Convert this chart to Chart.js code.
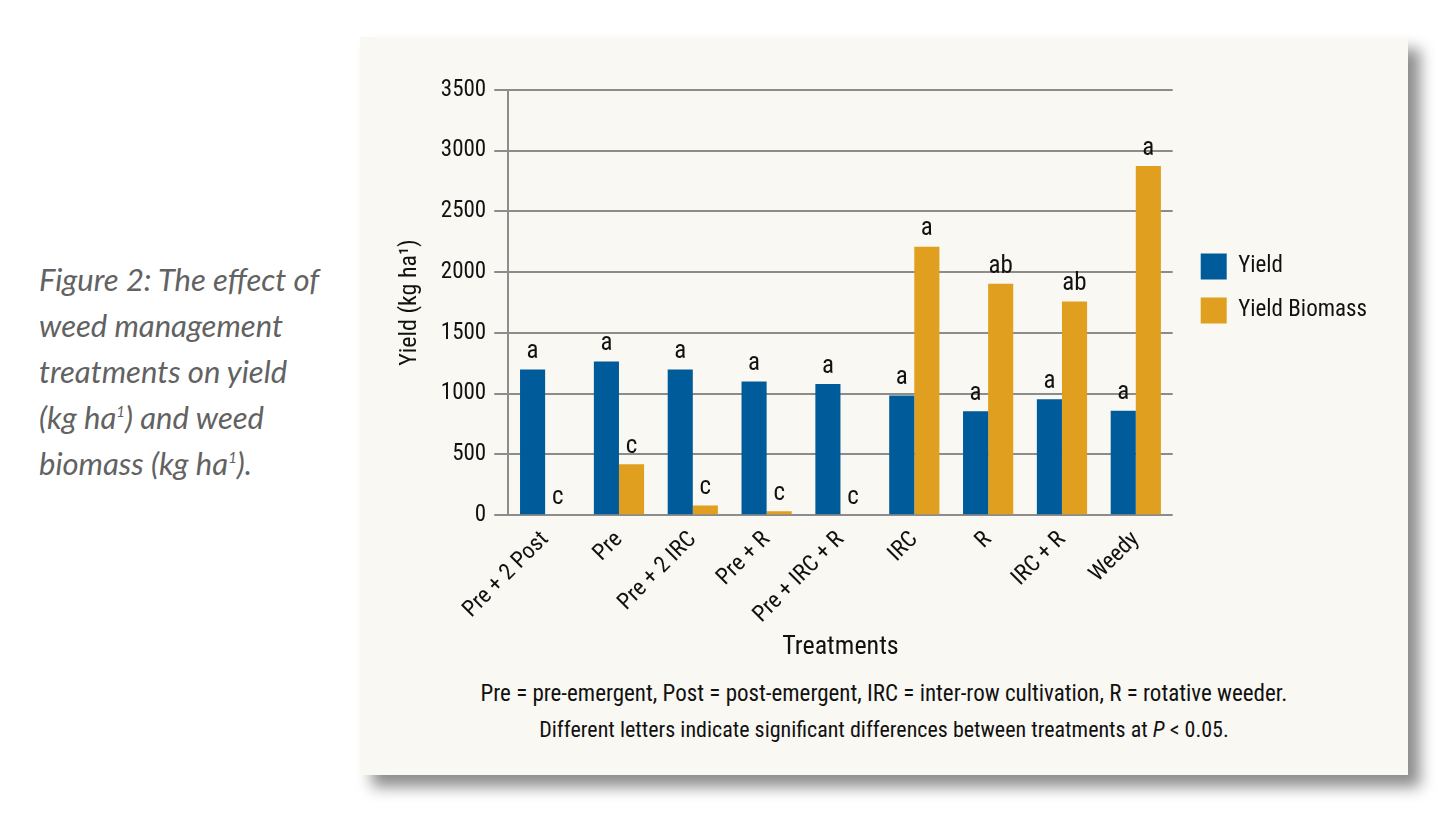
<!DOCTYPE html>
<html>
<head>
<meta charset="utf-8">
<script src="https://cdn.jsdelivr.net/npm/chart.js@4.4.0/dist/chart.umd.min.js"></script>
<style>
    html, body { margin: 0; padding: 0; background: #ffffff; }
    body { width: 1450px; height: 813px; position: relative; overflow: hidden; }
    .caption {
        position: absolute; left: 39px; top: 256px; width: 320px;
        font-family: "Lato", "Open Sans", sans-serif; font-style: italic;
        font-size: 31px; line-height: 46px; color: #626262;
    }
    .caption sup { font-size: 15px; vertical-align: 12px; line-height: 0; }
    .karte {
        position: absolute; left: 360px; top: 37px; width: 1048px; height: 738px;
        background: #f9f8f3;
        box-shadow: 12px 12px 14px rgba(0, 0, 0, 0.45);
    }
    .diagramm { position: absolute; left: 0; top: 0; width: 1048px; height: 640px; }
    .fussnote {
        position: absolute; left: 0; width: 1048px; text-align: center;
        font-family: "Roboto Condensed", sans-serif;
        font-size: 22px; color: #111;
    }
</style>
</head>
<body>
<div class="caption">Figure 2: The effect of<br>weed management<br>treatments on yield<br>(kg ha<sup>1</sup>) and weed<br>biomass (kg ha<sup>1</sup>).</div>
<div class="karte">
    <div class="diagramm"><canvas id="chart"></canvas></div>
    <div class="fussnote" style="top: 643px; font-size: 23px;">Pre = pre-emergent, Post = post-emergent, IRC = inter-row cultivation, R = rotative weeder.</div>
    <div class="fussnote" style="top: 680px;">Different letters indicate significant differences between treatments at <i>P</i> &lt; 0.05.</div>
</div>
<script>
const behandlungen = ["Pre + 2 Post", "Pre", "Pre + 2 IRC", "Pre + R", "Pre + IRC + R", "IRC", "R", "IRC + R", "Weedy"];
const ertrag = [1200, 1265, 1200, 1100, 1080, 985, 855, 955, 860];
const biomasse = [0, 420, 80, 33, 0, 2210, 1905, 1760, 2875];
const ertragBuchstaben = ["a", "a", "a", "a", "a", "a", "a", "a", "a"];
const biomasseBuchstaben = ["c", "c", "c", "c", "c", "a", "ab", "ab", "a"];
const yTicks = [0, 500, 1000, 1500, 2000, 2500, 3000, 3500];

const schrift = "'Roboto Condensed', sans-serif";

// Buchstaben über den Balken
const buchstabenPlugin = {
    id: "buchstaben",
    afterLayout(chart) {
        // Legende etwas nach rechts und oben schieben
        const lg = chart.legend;
        lg.left += 10; lg.right += 10;
        lg.top -= 88; lg.bottom -= 88;
    },
    afterDatasetsDraw(chart) {
        const ctx = chart.ctx;
        const listen = [ertragBuchstaben, biomasseBuchstaben];
        ctx.save();
        ctx.font = "25px " + schrift;
        ctx.fillStyle = "#111";
        ctx.textAlign = "center";
        ctx.textBaseline = "bottom";
        listen.forEach((liste, d) => {
            chart.getDatasetMeta(d).data.forEach((balken, i) => {
                ctx.fillText(liste[i], balken.x, balken.y - 5);
            });
        });
        ctx.restore();
    },
};

const ctx = document.getElementById("chart").getContext("2d");
const myChart = new Chart(ctx, {
    type: "bar",
    data: {
        labels: behandlungen,
        datasets: [{
            label: "Yield",
            data: ertrag,
            backgroundColor: "#005b9a",
            borderWidth: 0,
        }, {
            label: "Yield Biomass",
            data: biomasse,
            backgroundColor: "#e09f1f",
            borderWidth: 0,
        }],
    },
    options: {
        responsive: true,
        maintainAspectRatio: false,
        animation: false,
        layout: { padding: { left: 36, top: 53, right: 41, bottom: 14 } },
        datasets: { bar: { barPercentage: 1, categoryPercentage: 0.68 } },
        plugins: {
            tooltip: { enabled: false },
            legend: {
                position: "right",
                labels: {
                    boxWidth: 26, boxHeight: 26, padding: 18,
                    color: "#111",
                    font: { family: schrift, size: 23 },
                },
            },
        },
        scales: {
            x: {
                grid: { display: false },
                border: { display: false },
                ticks: {
                    color: "#111", minRotation: 45, maxRotation: 45,
                    font: { family: schrift, size: 23 },
                },
                title: {
                    display: true, text: "Treatments", color: "#111",
                    font: { family: schrift, size: 26 },
                    padding: { top: 0, bottom: 0 },
                },
            },
            y: {
                min: 0, max: 3500,
                afterBuildTicks(axis) { axis.ticks = yTicks.map((v) => ({ value: v })); },
                grid: { color: "#8c8c8c", lineWidth: 2, tickLength: 14 },
                border: { color: "#8c8c8c", width: 2 },
                ticks: {
                    color: "#111", padding: 8,
                    font: { family: schrift, size: 23 },
                    callback: (v) => String(v),
                },
                title: {
                    display: true, text: "Yield (kg ha¹)", color: "#111",
                    font: { family: schrift, size: 24 },
                    padding: { top: 0, bottom: 8 },
                },
            },
        },
    },
    plugins: [buchstabenPlugin],
});
</script>
</body>
</html>
